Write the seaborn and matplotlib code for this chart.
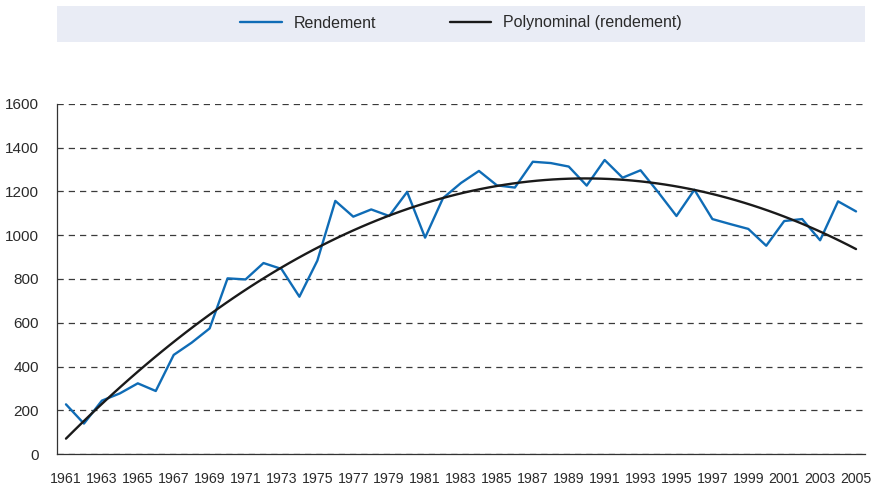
import numpy as np
import pandas as pd
import matplotlib
matplotlib.use("Agg")
import matplotlib.pyplot as plt
import seaborn as sns

years = list(range(1961, 2006))
rendement = [227, 139, 244, 277, 323, 288, 453, 509, 574, 803,
             798, 873, 846, 719, 884, 1157, 1085, 1118, 1088, 1198,
             989, 1170, 1239, 1294, 1228, 1218, 1336, 1330, 1314, 1227,
             1344, 1263, 1297, 1195, 1088, 1208, 1074, 1051, 1029, 952,
             1065, 1074, 977, 1155, 1109]
y_ticks = [0, 200, 400, 600, 800, 1000, 1200, 1400, 1600]
series_labels = ["Rendement", "Polynominal (rendement)"]

sns.set_theme(style="white")
plt.rcParams['font.family'] = ['Liberation Sans', 'DejaVu Sans']

df = pd.DataFrame({"idx": np.arange(len(years)), "year": years, "rendement": rendement})

fig = plt.figure(figsize=(8.76, 4.86), dpi=100)
ax = fig.add_axes([57/876, 32/486, 808/876, 350/486])

blue = "#0f6cb6"
black = "#1a1a1a"
text_c = "#2a2a2a"

sns.lineplot(data=df, x="idx", y="rendement", ax=ax, color=blue, lw=1.7,
             label=series_labels[0], legend=False)
sns.regplot(data=df, x="idx", y="rendement", ax=ax, order=2, ci=None,
            scatter=False, truncate=True,
            line_kws={"color": black, "lw": 1.7}, label=series_labels[1])

ax.set_xlim(-0.5, len(years) - 0.5)
ax.set_ylim(0, 1600)
ax.set_yticks(y_ticks)
ax.set_yticklabels([str(v) for v in y_ticks])
ax.set_xticks(np.arange(0, len(years), 2))
ax.set_xticklabels([str(y) for y in years[::2]])
ax.set_xticks(np.arange(-0.5, len(years), 1), minor=True)
ax.tick_params(axis="x", which="major", length=0, pad=13, labelsize=10.2, colors=text_c)
ax.tick_params(axis="x", which="minor", direction="in", length=6, width=0.8, color="#333333")
ax.tick_params(axis="y", which="major", direction="in", length=4, width=0.8, pad=13,
               labelsize=11, colors=text_c)
ax.set_xlabel("")
ax.set_ylabel("")
ax.grid(axis="y", linestyle=(0, (5, 4)), color="#3a3a3a", lw=0.9)
ax.set_axisbelow(True)
for s in ["top", "right"]:
    ax.spines[s].set_visible(False)
for s in ["left", "bottom"]:
    ax.spines[s].set_color("#333333")
    ax.spines[s].set_linewidth(0.9)

# legend band
band = plt.Rectangle((57/876, 1 - 42/486), 808/876, 36/486, transform=fig.transFigure,
                     facecolor="#e9ecf5", edgecolor="none", zorder=0)
fig.patches.append(band)
handles, labels = ax.get_legend_handles_labels()
leg = fig.legend(handles, labels, loc="center", bbox_to_anchor=(461/876, 1 - 23/486),
                 ncol=2, frameon=False, fontsize=11.5, handlelength=2.6,
                 columnspacing=4.6, handletextpad=0.75)
for t in leg.get_texts():
    t.set_color(text_c)

fig.savefig("out.png", dpi=100)
